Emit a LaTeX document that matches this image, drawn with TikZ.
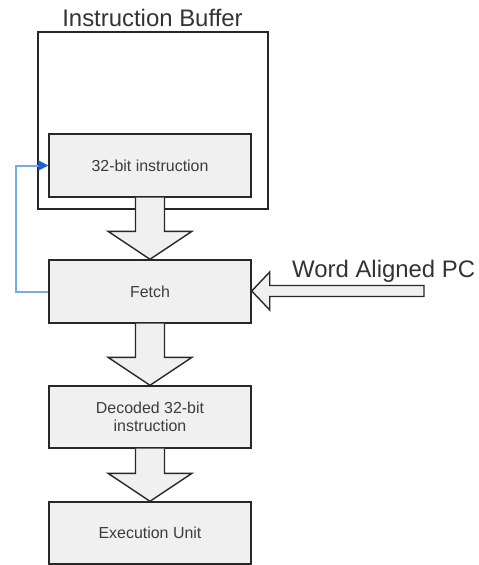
\documentclass[tikz,border=0pt]{standalone}
\usepackage{fontspec}
\setmainfont{Liberation Sans}
\usetikzlibrary{calc,arrows.meta}
\definecolor{boxfill}{RGB}{240,240,240}
\definecolor{boxline}{RGB}{40,40,40}
\definecolor{txt}{RGB}{60,60,60}
\definecolor{fbline}{RGB}{120,170,235}
\definecolor{fbtip}{RGB}{35,95,215}
\tikzset{
  unit/.style={draw=boxline, line width=1.4bp, fill=boxfill, text=txt,
    minimum width=202bp, minimum height=63bp, inner sep=0pt,
    font=\fontsize{16}{19}\selectfont, align=center},
  frame/.style={draw=black!85, line width=1.4bp, fill=white,
    minimum width=230bp, minimum height=177bp, inner sep=0pt},
  blk/.style={draw=boxline, line width=1.4bp, fill=boxfill, line join=miter},
  big/.style={font=\fontsize{24}{28}\selectfont, text=black!80, inner sep=0pt},
  fb/.style={draw=fbline, line width=2bp, -{Triangle[length=10bp,width=10bp,color=fbtip]}}
}
% vertical block arrow between two stacked units
\newcommand\blkdown[2]{%
  \path[blk] let \p1=(#1.south), \p2=(#2.north) in
    (\x1-14.5bp,\y1) -- (\x1-14.5bp,\y2+28bp) -- (\x1-42bp,\y2+28bp) --
    (\x1,\y2) -- (\x1+42bp,\y2+28bp) -- (\x1+14.5bp,\y2+28bp) --
    (\x1+14.5bp,\y1);}
\begin{document}
\begin{tikzpicture}[x=1bp,y=-1bp]
\useasboundingbox (0,0) rectangle (479,565);

% instruction buffer
\node[frame] (buf) at (153,120.5) {};
\node[big, anchor=base] (buftitle) at (152.5,27) {Instruction Buffer};
\node[unit] (ins) at (150,165.5) {32-bit instruction};

% pipeline stages
\node[unit] (fetch) at (150,291.5) {Fetch};
\node[unit, minimum height=62bp] (dec) at (150,417) {Decoded 32-bit\\[-0.5bp]instruction};
\node[unit, minimum height=62bp] (exec) at (150,533) {Execution Unit};

% data flow
\blkdown{ins}{fetch}
\blkdown{fetch}{dec}
\blkdown{dec}{exec}

% program counter input
\coordinate (pcend) at (424,291);
\path[blk] let \p1=(pcend), \p2=(fetch.east) in
  (\x1,\y1+5.5bp) -- (\x2+18bp,\y1+5.5bp) -- (\x2+18bp,\y1+19bp) --
  (\x2,\y1) -- (\x2+18bp,\y1-19bp) -- (\x2+18bp,\y1-5.5bp) --
  (\x1,\y1-5.5bp) -- cycle;
\node[big, anchor=base west] (pclabel) at (292,277) {Word Aligned PC};

% feedback from fetch to the buffer
\draw[fb] (fetch.west) -- ++(-32,0) |- (ins.west);
\end{tikzpicture}
\end{document}
